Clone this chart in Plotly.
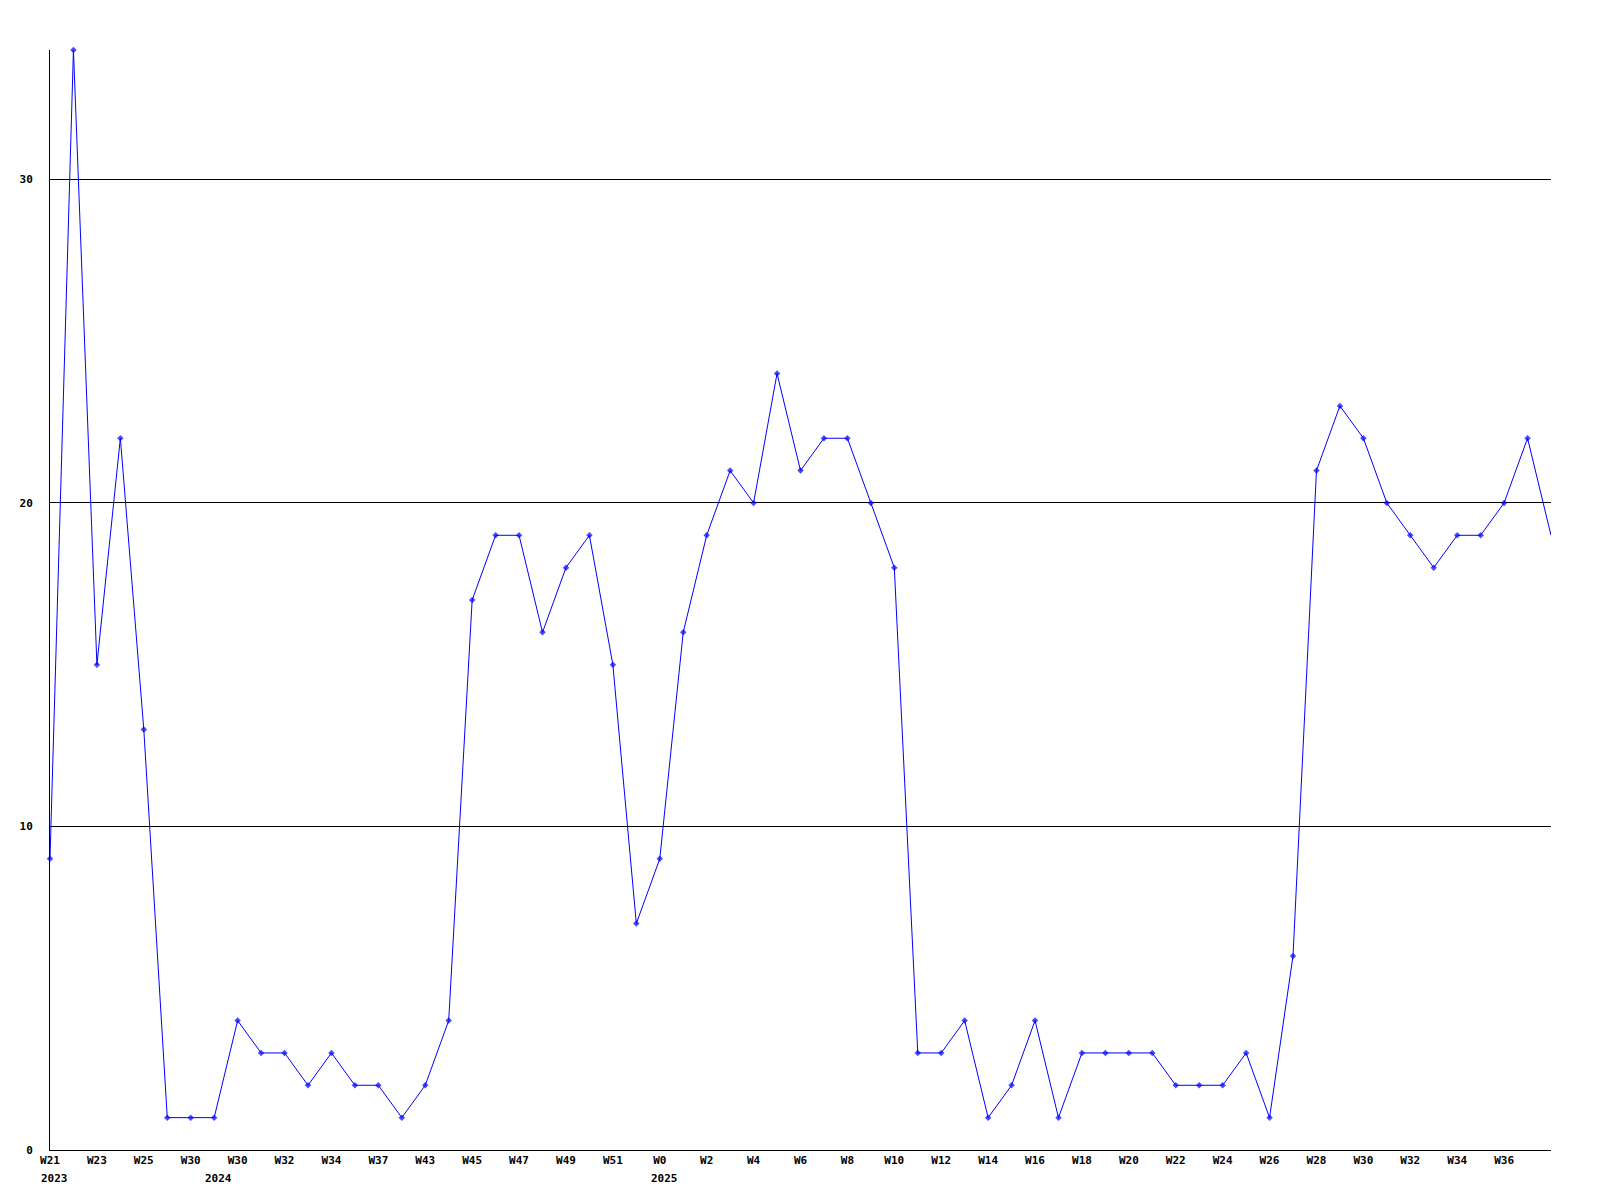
import plotly.graph_objects as go

values = [9, 34, 15, 22, 13, 1, 1, 1, 4, 3, 3, 2, 3, 2, 2, 1, 2, 4, 17, 19,
          19, 16, 18, 19, 15, 7, 9, 16, 19, 21, 20, 24, 21, 22, 22, 20, 18, 3, 3, 4,
          1, 2, 4, 1, 3, 3, 3, 3, 2, 2, 2, 3, 1, 6, 21, 23, 22, 20, 19, 18,
          19, 19, 20, 22, 19]
week_labels = ["W21", "W23", "W25", "W30", "W30", "W32", "W34", "W37", "W43", "W45",
               "W47", "W49", "W51", "W0", "W2", "W4", "W6", "W8", "W10", "W12",
               "W14", "W16", "W18", "W20", "W22", "W24", "W26", "W28", "W30", "W32",
               "W34", "W36"]
year_labels = ["2023", "2024", "2025"]
year_pos = [0, 7, 26]
y_ticks = [0, 10, 20, 30]

x = list(range(len(values)))
sizes = [5] * (len(values) - 1) + [0]
FONT = "DejaVu Sans Mono"

fig = go.Figure()
fig.add_trace(go.Scatter(
    x=x, y=values, mode="lines+markers",
    line=dict(color="#0000ff", width=1),
    marker=dict(symbol="diamond", size=sizes, color="#0000ff", line=dict(width=0)),
    cliponaxis=False, showlegend=False, hoverinfo="skip"))

for lab, p in zip(year_labels, year_pos):
    fig.add_annotation(x=p, y=0, xref="x", yref="paper", text="<b>" + lab + "</b>",
                       showarrow=False, xanchor="left", yanchor="top", xshift=-11, yshift=-20,
                       font=dict(family=FONT, size=11, color="black"))

fig.update_layout(
    width=1600, height=1200,
    margin=dict(l=42, r=57, t=42, b=58),
    paper_bgcolor="white", plot_bgcolor="white",
    font=dict(family=FONT, size=11, color="black"),
)
fig.update_xaxes(
    range=[0, len(values) - 1], showgrid=False, zeroline=False,
    showline=True, linecolor="black", linewidth=1,
    tickvals=list(range(0, 2 * len(week_labels), 2)),
    ticktext=["<b>" + w + "</b>" for w in week_labels],
    ticks="", tickangle=0,
)
fig.update_yaxes(
    range=[0, 34], showgrid=True, gridcolor="black", gridwidth=1, zeroline=False,
    showline=True, linecolor="black", linewidth=1,
    tickvals=y_ticks, ticktext=["<b>%d</b>" % v for v in y_ticks],
    ticks="", ticklabelstandoff=14,
)

fig.write_html("out.html")
